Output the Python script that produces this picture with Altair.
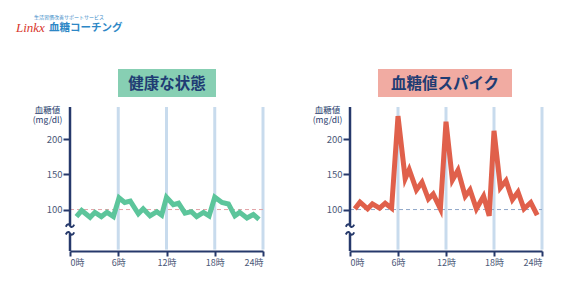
import altair as alt
import pandas as pd

# ---- data ----
hours_healthy = [0.8, 1.45, 2.5, 3.1, 3.9, 4.6, 5.4, 6.1, 6.8, 7.5, 8.5, 9.1, 9.95, 10.8, 11.4,
                 12.0, 12.85, 13.5, 14.3, 15.1, 15.75, 16.6, 17.3, 18.0, 18.9, 19.7, 20.5, 21.1,
                 22.0, 22.8, 23.5]
glucose_healthy = [90, 98.6, 89, 96, 90, 96, 90, 116.7, 110, 112, 94, 101, 91, 97, 92,
                   117.6, 107, 109, 95, 97, 90, 96, 91, 117.6, 110, 108, 91, 96,
                   88, 93, 86]

hours_spike = [0.6, 1.25, 2.2, 2.8, 3.7, 4.4, 5.2, 6.0, 6.9, 7.4, 8.3, 9.0, 9.8, 10.4, 11.3,
               12.0, 12.8, 13.5, 14.4, 15.0, 15.8, 16.7, 17.4, 18.0, 18.8, 19.5, 20.3, 21.0,
               21.75, 22.6, 23.4]
glucose_spike = [101, 110.5, 101, 108, 102, 109, 102, 233, 144, 157, 128, 139, 115, 122, 101,
                 225, 142, 156, 119, 128, 101, 119, 91, 212, 131, 141, 114, 125,
                 101, 110, 92]

grid_hours = [6, 12, 18, 24]
tick_hours = [0, 6, 12, 18, 24]
y_ticks = [100, 150, 200]
reference_level = 100
axis_break = [66, 77]          # glucose values where the y axis is broken
panel_titles = ["健康な状態", "血糖値スパイク"]
y_title = ["血糖値", "(mg/dl)"]
logo_sub = "生活習慣改善サポートサービス"
logo_brand = "Linkx"
logo_name = "血糖コーチング"

# ---- styling ----
FONT = "Noto Sans CJK JP"
NAVY = "#26396b"
LABEL = "#4b5877"
GRID = "#c8dbed"
Y_DOMAIN = [41, 246]
H = 144
TILDE = "M -1 0.25 C -0.55 -0.75 -0.1 -0.2 0 0 C 0.1 0.2 0.55 0.75 1 -0.25"

xs = alt.Scale(domain=[0, 24], nice=False)
ys = alt.Scale(domain=Y_DOMAIN, nice=False, zero=False)

x_axis = alt.Axis(values=tick_hours, labelExpr="datum.value + '時'", title=None, grid=False,
                  domainColor=NAVY, domainWidth=2, tickColor=NAVY, tickWidth=2, tickSize=5,
                  labelColor=LABEL, labelFontSize=9, labelPadding=2, labelFont=FONT, zindex=1)
y_axis = alt.Axis(values=y_ticks, title=y_title, titleAngle=0, titleAlign="center",
                  titleBaseline="top", titleX=-23, titleY=-2, titleFontSize=8.5,
                  titleFontWeight="normal", titleColor=NAVY, titleLineHeight=10.5,
                  titleFont=FONT, grid=False, domain=False, tickColor=NAVY, tickWidth=2,
                  tickSize=7, labelColor=LABEL, labelFontSize=9.5, labelPadding=1,
                  labelFont=FONT)


def X(field):
    return alt.X(field, scale=xs, axis=x_axis)


def Y(field):
    return alt.Y(field, scale=ys, axis=y_axis)


def panel(hours, values, color, title, box_color, dash_color, box_x0, box_x1, width, extra=None):
    df = pd.DataFrame({"hour": hours, "glucose": values})
    grid = alt.Chart(pd.DataFrame({"hour": grid_hours, "top": Y_DOMAIN[1], "bottom": Y_DOMAIN[0] + 2})).mark_rule(
        color=GRID, strokeWidth=3).encode(x=X("hour:Q"), y=Y("top:Q"), y2="bottom:Q")
    dash = alt.Chart(pd.DataFrame({"h0": [0], "h1": [24], "level": [reference_level]})).mark_rule(
        color=dash_color, strokeWidth=1, strokeDash=[4, 3]).encode(x=X("h0:Q"), x2="h1:Q", y=Y("level:Q"))
    yline = alt.Chart(pd.DataFrame({"h": [0, 0], "y0": [Y_DOMAIN[0], axis_break[1]],
                                    "y1": [axis_break[0], Y_DOMAIN[1]]})).mark_rule(
        color=NAVY, strokeWidth=2.5).encode(x=X("h:Q"), y=Y("y0:Q"), y2="y1:Q")
    tildes = alt.Chart(pd.DataFrame({"h": [0, 0], "v": axis_break})).mark_point(
        shape=TILDE, filled=False, stroke=NAVY, strokeWidth=2, size=70, opacity=1).encode(
        x=X("h:Q"), y=Y("v:Q"))
    line = alt.Chart(df).mark_line(color=color, strokeWidth=5).encode(x=X("hour:Q"), y=Y("glucose:Q"))
    box = alt.Chart(pd.DataFrame({"t": [title]})).mark_rect(color=box_color).encode(
        x=alt.value(box_x0), x2=alt.value(box_x1), y=alt.value(-38), y2=alt.value(-10))
    label = alt.Chart(pd.DataFrame({"t": [title]})).mark_text(
        font=FONT, fontSize=15.5, fontWeight="bold", color="#1f3c73", baseline="middle",
        align="center").encode(text="t:N", x=alt.value((box_x0 + box_x1) / 2), y=alt.value(-23.5))
    layers = [grid, dash, yline, tildes, line, box, label]
    if extra:
        layers = extra + layers
    return alt.layer(*layers).properties(width=width, height=H)


one = pd.DataFrame({"a": [0]})
anchor = alt.Chart(one).mark_rect(color="white").encode(
    x=alt.value(-70), x2=alt.value(-69), y=alt.value(-107), y2=alt.value(-106))
logo_small = alt.Chart(pd.DataFrame({"t": [logo_sub]})).mark_text(
    font=FONT, fontSize=5, color="#3d8cc8", align="left", baseline="middle").encode(
    text="t:N", x=alt.value(34 - 70), y=alt.value(17 - 107))
logo_b = alt.Chart(pd.DataFrame({"t": [logo_brand]})).mark_text(
    font="Liberation Serif", fontSize=13, fontStyle="italic", color="#d8372d",
    align="left", baseline="middle").encode(text="t:N", x=alt.value(16 - 70), y=alt.value(28 - 107))
logo_n = alt.Chart(pd.DataFrame({"t": [logo_name]})).mark_text(
    font=FONT, fontSize=10.5, fontWeight="bold", color="#2d87c6", align="left",
    baseline="middle").encode(text="t:N", x=alt.value(49 - 70), y=alt.value(28 - 107))

left = panel(hours_healthy, glucose_healthy, "#5cc59b", panel_titles[0], "#87cfb3", "#e2a2a6",
             48, 146, 193, extra=[anchor, logo_small, logo_b, logo_n])
right = panel(hours_spike, glucose_spike, "#e0604b", panel_titles[1], "#f1aba2", "#8ea6c8",
              28, 162, 192)

chart = alt.hconcat(left, right, spacing=87, bounds="flush").properties(
    padding=0, background="white").configure_view(stroke=None)

chart.save("out.html", embed_options={"renderer": "svg", "actions": False})
